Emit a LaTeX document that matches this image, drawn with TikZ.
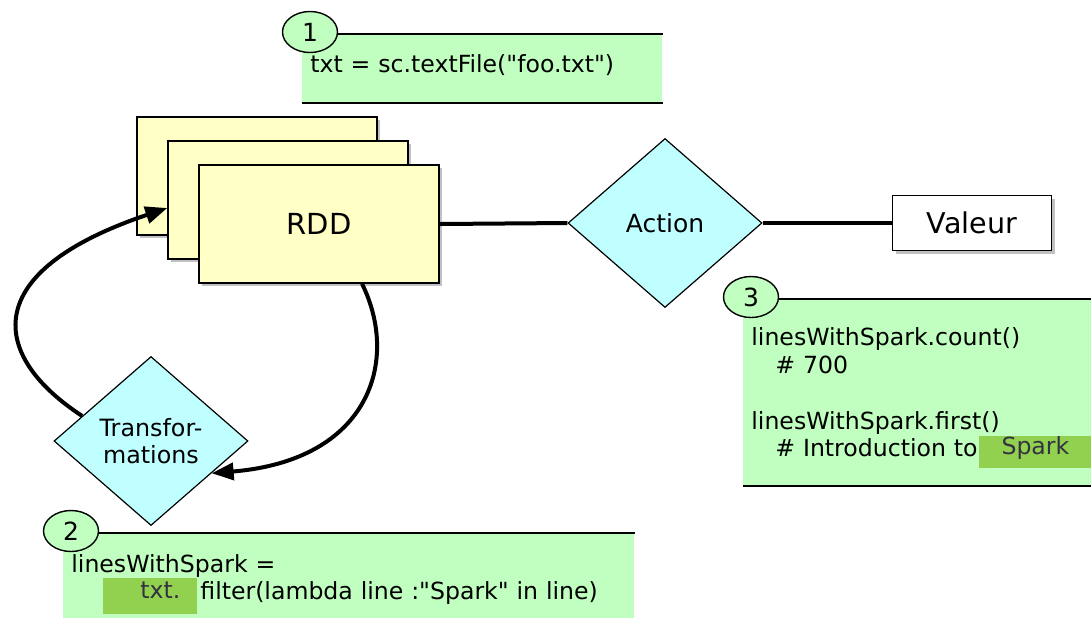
\documentclass[tikz,border=0pt]{standalone}
\usepackage{fontspec}
\setmainfont{DejaVu Sans}[Ligatures=TeXOff]
\usetikzlibrary{arrows.meta,shapes.geometric,shadows}

\definecolor{rddyellow}{RGB}{255,255,198}
\definecolor{opcyan}{RGB}{192,255,255}
\definecolor{notegreen}{RGB}{192,255,192}
\definecolor{hlgreen}{RGB}{146,208,80}
\definecolor{hltext}{RGB}{50,50,64}

\tikzset{
  rddbox/.style={draw, line width=0.7pt, fill=rddyellow, minimum width=120pt,
    minimum height=59pt, inner sep=0pt,
    drop shadow={shadow xshift=1.5pt, shadow yshift=-1.5pt, fill=black!70, opacity=0.35}},
  opdiamond/.style={diamond, draw, line width=0.6pt, fill=opcyan, minimum width=97pt,
    minimum height=84.5pt, inner sep=0pt, align=center},
  valbox/.style={draw, line width=0.7pt, fill=white, minimum width=79.5pt,
    minimum height=27.5pt, inner sep=0pt,
    drop shadow={shadow xshift=1.5pt, shadow yshift=-1.5pt, fill=black!70, opacity=0.35}},
  notebox/.style={fill=notegreen, anchor=north west, inner xsep=4pt, inner ysep=0pt,
    align=left, font=\fontsize{11.8}{13.9}\selectfont},
  noteline/.style={line width=0.7pt},
  notenum/.style={ellipse, draw, line width=0.7pt, fill=notegreen, minimum width=27.5pt,
    minimum height=20.5pt, inner sep=0pt, font=\fontsize{12.5}{14}\selectfont},
  hlbox/.style={fill=hlgreen, text=hltext, inner sep=0pt, anchor=north west,
    font=\fontsize{11.8}{13.9}\selectfont},
  flow/.style={line width=2pt},
  flowarrow/.style={-{Triangle[length=11pt,width=8.5pt]}}
}

\begin{document}
\begin{tikzpicture}[x=0.5pt,y=-0.5pt]

\useasboundingbox (0,0) rectangle (1091,617);
\clip (0,0) rectangle (1091,617);

% === Code notes ===
\node[notebox, minimum width=180pt, text width=172pt, text height=18.8pt, text depth=15.2pt]
    (note1) at (302,34) {txt = sc.textFile("foo.txt")};
\node[notebox, minimum width=285.5pt, text width=277.5pt, minimum height=46pt]
    (note2) at (63,533) {linesWithSpark =\\\hspace*{64.5pt}filter(lambda line :"Spark" in line)};
\node[notebox, minimum width=174pt, text width=166pt, minimum height=93pt]
    (note3) at (743,299) {linesWithSpark.count()\\\hspace*{12pt}\# 700\\[13.9pt]linesWithSpark.first()\\\hspace*{12pt}\# Introduction to};

% top and bottom rules
\draw[noteline] (note1.north west) -- (note1.north east);
\draw[noteline] (note1.south west) -- (note1.south east);
\draw[noteline] (note2.north west) -- (note2.north east);
\draw[noteline] (note3.north west) -- (note3.north east);
\draw[noteline] (note3.south west) -- (note3.south east);

% highlighted words
\node[hlbox, minimum width=56pt, text height=9pt, text depth=7pt] (spark) at (979,436) {Spark};
\node[hlbox, text width=30pt, align=right, inner xsep=8.5pt, text height=10pt, text depth=8pt]
    (txtdot) at (103,578) {txt.};

% step numbers
\node[notenum] (num1) at ([xshift=4pt,yshift=1pt]note1.north west) {1};
\node[notenum] (num2) at ([xshift=4pt,yshift=1pt]note2.north west) {2};
\node[notenum] (num3) at ([xshift=4pt,yshift=1pt]note3.north west) {3};

% === RDD stack ===
\node[rddbox] (rddc) at (257,176) {};
\node[rddbox] (rddb) at (288,200) {};
\node[rddbox, font=\fontsize{14.5}{17}\selectfont] (rdd) at (319,224) {RDD};

% === Operations ===
\node[opdiamond, font=\fontsize{12.5}{15}\selectfont] (action) at (665,223) {Action};
\node[valbox, font=\fontsize{14.3}{17}\selectfont] (valeur) at (972,223) {Valeur};
\node[opdiamond, font=\fontsize{11.9}{13.3}\selectfont] (trans) at (151,441) {Transfor-\\mations};

% === Connections ===
\draw[flow] (rdd.east) -- (action.west);
\draw[flow] (action.east) -- (valeur.west);
\draw[flow, flowarrow] (trans.160) .. controls +(-92,-60) and +(-190,64) .. ([yshift=-4pt]rddb.west);
\draw[flow, flowarrow] ([xshift=21.5pt]rdd.south) .. controls +(38,77) and +(158,-13) .. (trans.-28);

\end{tikzpicture}
\end{document}
